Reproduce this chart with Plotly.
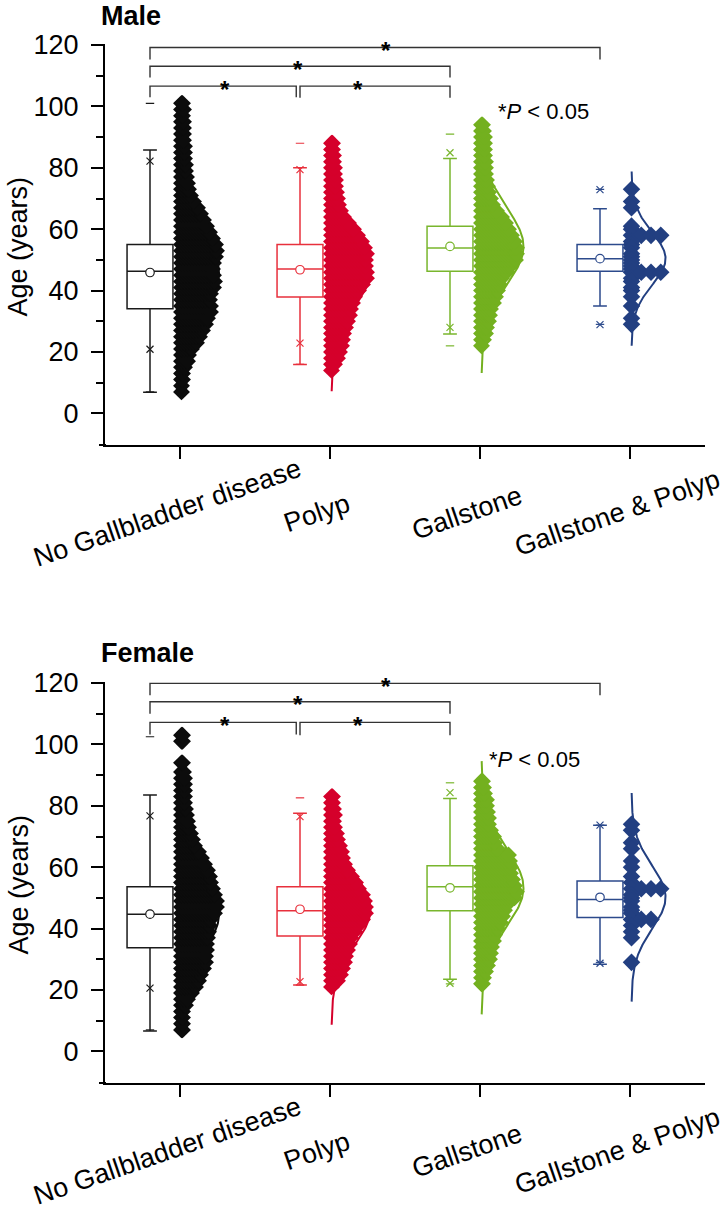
import numpy as np
import plotly.graph_objects as go

FONT = "Liberation Sans, Arial, Helvetica, sans-serif"

# ---------------- categories ----------------
categories = ["No Gallbladder disease", "Polyp", "Gallstone", "Gallstone &amp; Polyp"]
cat_x = [1, 2, 3, 4]

# ---------------- box statistics (age, years) ----------------
male_q1 = [34.1, 37.9, 46.3, 46.3]
male_median = [46.3, 47.0, 53.9, 50.4]
male_q3 = [55.0, 55.0, 61.0, 55.0]
male_mean = [45.9, 46.8, 54.4, 50.4]
male_whisk_lo = [6.9, 15.9, 25.9, 35.0]
male_whisk_hi = [85.8, 80.0, 83.0, 66.7]
male_p1 = [20.9, 22.9, 28.0, 28.9]
male_p99 = [82.2, 79.4, 84.9, 72.9]
male_min = [7.0, 16.0, 22.0, 29.0]
male_max = [101.0, 88.0, 91.0, 73.0]

female_q1 = [33.8, 37.6, 45.8, 43.6]
female_median = [44.7, 45.8, 53.6, 49.5]
female_q3 = [53.6, 53.6, 60.5, 55.5]
female_mean = [44.7, 46.3, 53.3, 50.2]
female_whisk_lo = [6.6, 21.6, 23.5, 28.4]
female_whisk_hi = [83.5, 77.6, 82.4, 73.7]
female_p1 = [20.6, 22.7, 22.2, 28.7]
female_p99 = [76.7, 76.5, 84.3, 73.7]
female_min = [7.0, 21.6, 22.0, 29.0]
female_max = [102.5, 82.6, 87.5, 73.7]

# ---------------- fitted normal curves (mean, SD, relative peak) ----------------
male_fit_mean = [45.9, 46.8, 54.4, 50.4]
male_fit_sd = [12.0, 12.0, 12.5, 8.6]
male_fit_peak = [0.25, 0.26, 0.28, 0.227]
female_fit_mean = [44.7, 46.3, 53.3, 50.2]
female_fit_sd = [12.0, 11.4, 12.5, 10.3]
female_fit_peak = [0.25, 0.26, 0.28, 0.227]

# ---------------- point clouds: stack depth per age row ----------------
male_nogb_ages = list(range(7, 102, 2))
male_nogb_depth = [0, 0, 1, 1, 3, 6, 7, 10, 15, 18, 21, 24, 26, 29, 29, 28, 29, 32, 33, 32,
                   31, 32, 34, 35, 34, 31, 28, 25, 22, 19, 16, 12, 9, 7, 6, 5, 4, 4, 3, 3,
                   3, 2, 2, 2, 2, 1, 2, 1]
male_polyp_ages = list(range(14, 89, 2))
male_polyp_depth = [0, 3, 6, 8, 10, 11, 12, 14, 16, 18, 19, 21, 23, 27, 31, 35, 35, 34, 34, 35,
                    33, 30, 26, 22, 17, 12, 9, 7, 6, 5, 4, 4, 3, 3, 2, 2, 1, 1]
male_stone_ages = list(range(22, 95, 2))
male_stone_depth = [0, 2, 4, 5, 7, 8, 9, 12, 14, 16, 18, 20, 25, 29, 34, 35, 35, 33, 30, 27,
                    24, 20, 15, 11, 9, 7, 6, 5, 4, 4, 4, 3, 3, 3, 3, 2, 1]
male_both_ages = [73, 69, 67, 61, 60, 58, 58, 58, 58, 56, 55, 54, 52, 51, 50, 49, 48, 47,
                  46, 46, 46, 46, 44, 43, 41, 40, 38, 35, 31, 29]

female_nogb_ages = list(range(7, 92, 2)) + [94, 101, 103]
female_nogb_depth = [1, 1, 1, 1, 4, 6, 10, 14, 17, 19, 22, 24, 24, 25, 25, 26, 27, 28, 29, 33,
                     35, 35, 33, 31, 29, 28, 26, 23, 20, 17, 13, 11, 9, 7, 6, 5, 4, 3, 3, 3,
                     3, 3, 2, 1, 1, 1]
female_polyp_ages = list(range(21, 84, 2))
female_polyp_depth = [0, 6, 9, 11, 13, 14, 16, 18, 19, 23, 27, 31, 34, 34, 33, 31, 27, 24, 20, 16,
                      13, 11, 10, 8, 6, 5, 3, 2, 3, 2, 1, 1]
female_stone_ages = list(range(22, 89, 2))
female_stone_depth = [1, 2, 4, 6, 8, 9, 10, 12, 13, 16, 19, 21, 23, 26, 33, 35, 33, 31, 29, 29,
                      28, 27, 16, 13, 12, 9, 7, 7, 6, 5, 5, 3, 2, 1]
female_both_ages = [74, 72, 68, 66, 62, 60, 57, 55, 53, 53, 53, 53, 51, 50, 49, 47, 46, 45,
                    43, 43, 43, 41, 39, 37, 29]

# ---------------- significance brackets: (x left, x right, top, drop) ----------------
male_br_x1 = [0.8, 1.8, 0.8, 0.8]
male_br_x2 = [1.775, 2.8, 2.8, 3.8]
male_br_top = [106.6, 106.6, 113.1, 119.2]
male_br_drop = [103.0, 102.8, 109.4, 115.3]
male_star_x = [1.30, 2.187, 1.787, 2.373]

female_br_x1 = [0.8, 1.8, 0.8, 0.8]
female_br_x2 = [1.775, 2.8, 2.8, 3.8]
female_br_top = [107.2, 107.2, 113.9, 119.9]
female_br_drop = [103.2, 103.0, 110.0, 116.0]
female_star_x = [1.30, 2.187, 1.787, 2.373]

# ---------------- styles ----------------
mark_col = ["#0c0c0c", "#d5002b", "#73b01f", "#223f81"]
box_col = ["#1a1a1a", "#e8303c", "#79b62d", "#2c4a8c"]
DEPTH_UNIT = 1.0 / 150.0   # x-units per stack-depth unit
BOX_OFF = -0.2
BOX_W = 0.306
CLOUD_OFF = 0.01

W, H = 725, 1224
X_DOM = [105 / W, 705 / W]
Y_RANGE = [-10.3, 120.5]
panels = [
    dict(ax="", top=43.5, bottom=445),
    dict(ax="2", top=681.5, bottom=1083),
]

fig = go.Figure()


def cloud_xy(cx, ages, depth):
    xs, ys = [], []
    for a, d in zip(ages, depth):
        offs = list(np.arange(0, d + 1e-9, 3.0))
        if d - offs[-1] > 0.5:
            offs.append(d)
        for o in offs:
            xs.append(cx + CLOUD_OFF + o * DEPTH_UNIT)
            ys.append(a)
    return xs, ys


def dots_xy(cx, ages):
    seen = {}
    xs, ys = [], []
    for a in ages:
        k = seen.get(a, 0)
        seen[a] = k + 1
        xs.append(cx + CLOUD_OFF + k * 0.065)
        ys.append(a)
    return xs, ys


def add_panel(ax, q1, med, q3, mean, wlo, whi, p1, p99, mn, mx,
              fm, fs, fp, clouds, both_ages, bx1, bx2, btop, bdrop):
    xa, ya = "x" + ax, "y" + ax
    # fitted curves
    for i, c in enumerate(cat_x):
        yy = np.linspace(fm[i] - 3.3 * fs[i], fm[i] + 3.3 * fs[i], 200)
        xx = c + CLOUD_OFF + fp[i] * np.exp(-0.5 * ((yy - fm[i]) / fs[i]) ** 2)
        fig.add_trace(go.Scatter(x=xx, y=yy, mode="lines", line=dict(color=mark_col[i], width=2),
                                 xaxis=xa, yaxis=ya, hoverinfo="skip"))
    # point clouds
    for i, (ages, depth) in enumerate(clouds):
        xs, ys = cloud_xy(cat_x[i], ages, depth)
        fig.add_trace(go.Scatter(x=xs, y=ys, mode="markers",
                                 marker=dict(symbol="diamond", size=13, color=mark_col[i], line=dict(width=0)),
                                 xaxis=xa, yaxis=ya, hoverinfo="skip"))
    xs, ys = dots_xy(cat_x[3], both_ages)
    fig.add_trace(go.Scatter(x=xs, y=ys, mode="markers",
                             marker=dict(symbol="diamond", size=13.5, color=mark_col[3], line=dict(width=0)),
                             xaxis=xa, yaxis=ya, hoverinfo="skip"))
    # boxes
    for i, c in enumerate(cat_x):
        pos = c + BOX_OFF
        fig.add_trace(go.Box(x=[pos], q1=[q1[i]], median=[med[i]], q3=[q3[i]],
                             lowerfence=[wlo[i]], upperfence=[whi[i]],
                             width=BOX_W, whiskerwidth=0.3, fillcolor="white",
                             line=dict(color=box_col[i], width=1.5), boxpoints=False,
                             xaxis=xa, yaxis=ya, hoverinfo="skip"))
        fig.add_trace(go.Scatter(x=[pos], y=[mean[i]], mode="markers",
                                 marker=dict(symbol="circle", size=8.5, color="white",
                                             line=dict(color=box_col[i], width=1.2)),
                                 xaxis=xa, yaxis=ya, hoverinfo="skip"))
        fig.add_trace(go.Scatter(x=[pos, pos], y=[p1[i], p99[i]], mode="markers",
                                 marker=dict(symbol="x-thin-open", size=7, color=box_col[i],
                                             line=dict(color=box_col[i], width=1.2)),
                                 xaxis=xa, yaxis=ya, hoverinfo="skip"))
        fig.add_trace(go.Scatter(x=[pos, pos], y=[mn[i], mx[i]], mode="markers",
                                 marker=dict(symbol="line-ew-open", size=6, color=box_col[i],
                                             line=dict(color=box_col[i], width=1.2)),
                                 xaxis=xa, yaxis=ya, hoverinfo="skip"))
    # brackets
    bx, by = [], []
    for a, b, t, d in zip(bx1, bx2, btop, bdrop):
        bx += [a, a, b, b, None]
        by += [d, t, t, d, None]
    fig.add_trace(go.Scatter(x=bx, y=by, mode="lines", line=dict(color="#333333", width=1.4),
                             xaxis=xa, yaxis=ya, hoverinfo="skip"))


add_panel("", male_q1, male_median, male_q3, male_mean, male_whisk_lo, male_whisk_hi,
          male_p1, male_p99, male_min, male_max, male_fit_mean, male_fit_sd, male_fit_peak,
          [(male_nogb_ages, male_nogb_depth), (male_polyp_ages, male_polyp_depth),
           (male_stone_ages, male_stone_depth)], male_both_ages,
          male_br_x1, male_br_x2, male_br_top, male_br_drop)
add_panel("2", female_q1, female_median, female_q3, female_mean, female_whisk_lo, female_whisk_hi,
          female_p1, female_p99, female_min, female_max, female_fit_mean, female_fit_sd, female_fit_peak,
          [(female_nogb_ages, female_nogb_depth), (female_polyp_ages, female_polyp_depth),
           (female_stone_ages, female_stone_depth)], female_both_ages,
          female_br_x1, female_br_x2, female_br_top, female_br_drop)

annotations = []
shapes = []
layout_axes = {}
titles = ["<b>Male</b>", "<b>Female</b>"]
title_top = [0.0, 637.0]
ytitle_y = [246.5, 884.5]
ptext = [(3.107, 98.3), (3.044, 95.2)]
stars = [(male_star_x, male_br_top), (female_star_x, female_br_top)]

for k, p in enumerate(panels):
    ax = p["ax"]
    ydom = [1 - p["bottom"] / H, 1 - p["top"] / H]
    layout_axes["xaxis" + ax] = dict(
        domain=X_DOM, range=[0.5, 4.5], anchor="y" + ax, tickvals=cat_x, showticklabels=False,
        ticks="outside", ticklen=12, tickwidth=2, tickcolor="black", showline=True,
        linewidth=2, linecolor="black", showgrid=False, zeroline=False, automargin=False)
    layout_axes["yaxis" + ax] = dict(
        domain=ydom, range=Y_RANGE, anchor="x" + ax, tickvals=[0, 20, 40, 60, 80, 100, 120],
        ticks="outside", ticklen=12, tickwidth=2, tickcolor="black", showline=True,
        linewidth=2, linecolor="black", showgrid=False, zeroline=False, automargin=False,
        ticklabelstandoff=7,
        tickfont=dict(family=FONT, size=27, color="black"),
        minor=dict(tickvals=[10, 30, 50, 70, 90, 110], ticks="outside", ticklen=7,
                   tickwidth=2, tickcolor="black", showgrid=False))
    # x axis extension to the left
    shapes.append(dict(type="line", xref="paper", yref="paper", x0=99 / W, x1=106 / W,
                       y0=ydom[0], y1=ydom[0], line=dict(color="black", width=2)))
    # category labels
    for c, lab in zip(cat_x, categories):
        annotations.append(dict(x=c - 13 / 150, y=1 - (p["bottom"] + 68) / H, xref="x" + ax,
                                yref="paper", text=lab, showarrow=False, textangle=-19,
                                xanchor="center", yanchor="middle",
                                font=dict(family=FONT, size=27, color="black")))
    annotations.append(dict(x=100 / W, y=1 - title_top[k] / H, xref="paper", yref="paper",
                            text=titles[k], showarrow=False, xanchor="left", yanchor="top",
                            borderpad=0, font=dict(family=FONT, size=27, color="black")))
    annotations.append(dict(x=18 / W, y=1 - ytitle_y[k] / H, xref="paper", yref="paper",
                            text="Age (years)", showarrow=False, textangle=-90,
                            xanchor="center", yanchor="middle",
                            font=dict(family=FONT, size=27, color="black")))
    annotations.append(dict(x=ptext[k][0], y=ptext[k][1], xref="x" + ax, yref="y" + ax,
                            text="*<i>P</i> &lt; 0.05", showarrow=False, xanchor="left",
                            yanchor="middle", font=dict(family=FONT, size=22, color="black")))
    for sx, sy in zip(*stars[k]):
        annotations.append(dict(x=sx, y=sy - 1.0, xref="x" + ax, yref="y" + ax,
                                text="<b>*</b>", showarrow=False, xanchor="center",
                                yanchor="middle", font=dict(family=FONT, size=24, color="black")))

fig.update_layout(
    width=W, height=H, margin=dict(l=0, r=0, t=0, b=0, pad=0, autoexpand=False),
    paper_bgcolor="white", plot_bgcolor="white", showlegend=False,
    boxmode="overlay", annotations=annotations, shapes=shapes,
    font=dict(family=FONT, color="black"), **layout_axes)

PIN = ("document.documentElement.style.margin='0';document.body.style.margin='0';"
       "document.body.style.overflow='hidden';document.documentElement.style.overflow='hidden';"
       "var gd=document.getElementById('{plot_id}');gd.style.position='absolute';"
       "gd.style.left='0px';gd.style.top='0px';")
fig.write_html("out.html", post_script=PIN, config={"displayModeBar": False})
